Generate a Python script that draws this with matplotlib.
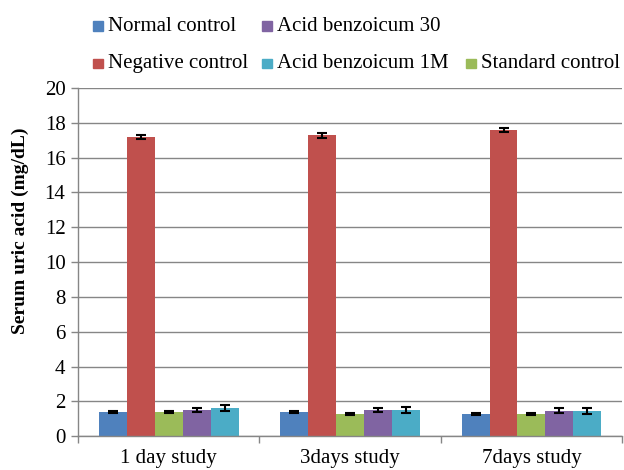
import numpy as np
import matplotlib.pyplot as plt
from matplotlib.patches import Rectangle

plt.rcParams['font.family'] = ['Liberation Serif', 'DejaVu Serif']

# groups and series
groups = ['1 day study', '3days study', '7days study']
series = ['Normal control', 'Negative control', 'Standard control',
          'Acid benzoicum 30', 'Acid benzoicum 1M']
colors = ['#4F81BD', '#C0504D', '#9BBB59', '#8064A2', '#4BACC6']

normal = [1.38, 1.38, 1.28]
negative = [17.17, 17.27, 17.57]
standard = [1.38, 1.28, 1.28]
ab30 = [1.52, 1.50, 1.47]
ab1m = [1.62, 1.50, 1.47]

normal_err = [0.05, 0.05, 0.05]
negative_err = [0.12, 0.12, 0.12]
standard_err = [0.07, 0.05, 0.05]
ab30_err = [0.12, 0.12, 0.12]
ab1m_err = [0.17, 0.17, 0.17]

values = [normal, negative, standard, ab30, ab1m]
errors = [normal_err, negative_err, standard_err, ab30_err, ab1m_err]

fig = plt.figure(figsize=(6.24, 4.70), dpi=100)
ax = fig.add_axes([0.125, 0.072, 0.872, 0.741])

x = np.arange(len(groups))
w = 0.154
for i, (vals, errs) in enumerate(zip(values, errors)):
    pos = x + (i - 2) * w
    ax.bar(pos, vals, w, color=colors[i], zorder=2)
    ax.errorbar(pos, vals, yerr=errs, fmt='none', ecolor='black',
                elinewidth=1.5, capsize=3.5, capthick=1.5, zorder=3)

gray = '#868686'
ax.set_ylim(0, 20)
ax.set_yticks(range(0, 21, 2))
ax.set_xlim(-0.5, 2.5)
ax.set_xticks(x)
ax.set_xticklabels(groups, fontsize=15)
ax.set_xticks([-0.5, 0.5, 1.5, 2.5], minor=True)
ax.tick_params(axis='x', which='major', length=0, pad=9)
ax.tick_params(axis='x', which='minor', length=5, color=gray, width=1)
ax.tick_params(axis='y', length=5, color=gray, width=1, labelsize=15, pad=4)
ax.grid(axis='y', color=gray, linewidth=1, zorder=0)
for s in ['top', 'right']:
    ax.spines[s].set_visible(False)
for s in ['left', 'bottom']:
    ax.spines[s].set_color(gray)
    ax.spines[s].set_linewidth(1)
ax.set_ylabel('Serum uric acid (mg/dL)', fontsize=14, fontweight='bold')
ax.yaxis.set_label_coords(-0.09, 0.59)

# legend laid out like the original (two rows)
legend_items = [
    (0, 0.149, 0.944), (3, 0.420, 0.944),
    (1, 0.149, 0.865), (4, 0.420, 0.865), (2, 0.747, 0.865),
]
for idx, lx, ly in legend_items:
    fig.patches.append(Rectangle((lx, ly - 0.0105), 0.016, 0.021, transform=fig.transFigure,
                                 color=colors[idx], figure=fig))
    fig.text(lx + 0.024, ly, series[idx], fontsize=15, va='center', ha='left')

fig.savefig('out.png', dpi=100)
